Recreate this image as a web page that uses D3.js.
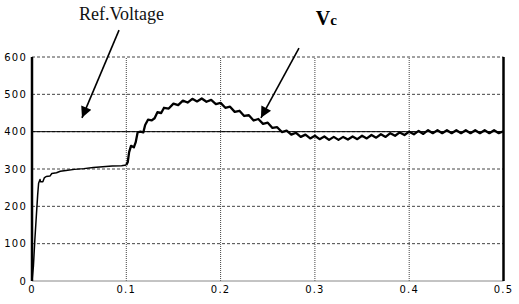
<!DOCTYPE html>
<html>
<head>
<meta charset="utf-8">
<script src="https://cdn.jsdelivr.net/npm/d3@7"></script>
<style>
  html, body { margin: 0; padding: 0; background: #fff; }
  svg { display: block; }
</style>
</head>
<body>
<svg id="chart" width="519" height="304"></svg>
<script>
// ---- data ----
const xTicks = [0, 0.1, 0.2, 0.3, 0.4, 0.5];
const xTickLabels = ["0", "0.1", "0.2", "0.3", "0.4", "0.5"];
const yTicks = [0, 100, 200, 300, 400, 500, 600];
const yTickLabels = ["0", "100", "200", "300", "400", "500", "600"];
const refVoltage = 400;

// time (s)
const time = [
  0, 0.0015, 0.003, 0.0045, 0.006, 0.007, 0.0085, 0.009, 0.0115, 0.013, 0.015, 0.019, 0.021,
  0.026, 0.03, 0.036, 0.045, 0.055, 0.065, 0.075, 0.085, 0.095, 0.1,
  0.1015, 0.103, 0.105, 0.108, 0.11, 0.112, 0.115, 0.118, 0.12, 0.123, 0.127, 0.13, 0.133, 0.137,
  0.140, 0.145, 0.150, 0.155, 0.160, 0.165, 0.170, 0.175, 0.180, 0.185, 0.190, 0.195,
  0.200, 0.205, 0.210, 0.215, 0.220, 0.225, 0.230, 0.235, 0.240, 0.245,
  0.250, 0.255, 0.260, 0.265, 0.270, 0.275, 0.280, 0.285, 0.290, 0.295,
  0.300, 0.305, 0.310, 0.315, 0.320, 0.325, 0.330, 0.335, 0.340, 0.345,
  0.350, 0.355, 0.360, 0.365, 0.370, 0.375, 0.380, 0.385, 0.390, 0.395,
  0.400, 0.405, 0.410, 0.415, 0.420, 0.425, 0.430, 0.435, 0.440, 0.445,
  0.450, 0.455, 0.460, 0.465, 0.470, 0.475, 0.480, 0.485, 0.490, 0.495, 0.500
];
// capacitor voltage Vc (V)
const vc = [
  0, 40, 110, 170, 230, 262, 272, 266, 266, 276, 280, 281, 288,
  290, 294, 296, 299, 301, 304, 306, 308, 309, 311,
  318, 345, 362, 358, 372, 398, 400, 398, 418, 432, 430, 436, 452, 450,
  464, 462, 475, 471, 483, 478, 488, 481, 489, 480, 485, 474,
  477, 464, 467, 453, 456, 442, 444, 430, 434, 421,
  424, 410, 412, 399, 403, 392, 397, 386, 392, 382,
  389, 380, 387, 378, 386, 378, 386, 379, 387, 380,
  389, 382, 391, 384, 393, 386, 396, 389, 398, 391,
  400, 393, 402, 394, 404, 396, 404, 396, 404, 396,
  404, 396, 404, 396, 404, 396, 404, 396, 404, 396, 401
];

// annotations, in data coordinates [t, V]
const annoTexts = [
  { label: "Ref.Voltage", at: [0.0498, 700] }
];
const arrowFrom = [[0.0923, 672], [0.2831, 624]];
const arrowTo   = [[0.0530, 437], [0.2428, 437]];

// ---- drawing ----
const svg = d3.select("#chart");
const x = d3.scaleLinear().domain([0, 0.5]).range([32, 503.5]);
const y = d3.scaleLinear().domain([0, 600]).range([281, 57]);

svg.append("rect").attr("width", 519).attr("height", 304).attr("fill", "#fff");

// horizontal grid
svg.append("g").selectAll("line").data(yTicks.filter(v => v > 0)).join("line")
  .attr("x1", x(0)).attr("x2", x(0.5))
  .attr("y1", d => y(d)).attr("y2", d => y(d))
  .attr("stroke", "#444").attr("stroke-width", 1)
  .attr("stroke-dasharray", "3,2");

// vertical grid
svg.append("g").selectAll("line").data(xTicks.filter(v => v > 0 && v < 0.5)).join("line")
  .attr("x1", d => x(d)).attr("x2", d => x(d))
  .attr("y1", y(0)).attr("y2", y(600))
  .attr("stroke", "#444").attr("stroke-width", 1)
  .attr("stroke-dasharray", "1,1");

// bottom axis line
svg.append("line")
  .attr("x1", x(0)).attr("x2", x(0.5)).attr("y1", y(0)).attr("y2", y(0))
  .attr("stroke", "#888").attr("stroke-width", 1);

// left & right frame
svg.append("line")
  .attr("x1", x(0)).attr("x2", x(0)).attr("y1", y(0)).attr("y2", y(600))
  .attr("stroke", "#000").attr("stroke-width", 2.5);
svg.append("line")
  .attr("x1", x(0.5)).attr("x2", x(0.5)).attr("y1", y(0)).attr("y2", y(600))
  .attr("stroke", "#000").attr("stroke-width", 2.5);

// tick labels
svg.append("g").selectAll("text").data(yTicks).join("text")
  .attr("x", x(0) - 5).attr("y", d => y(d) + 3.5)
  .attr("text-anchor", "end")
  .attr("font-family", "DejaVu Sans, sans-serif").attr("font-size", 10)
  .attr("letter-spacing", 1.2).attr("fill", "#000")
  .text((d, i) => yTickLabels[i]);
svg.append("g").selectAll("text").data(xTicks).join("text")
  .attr("x", d => x(d)).attr("y", 293)
  .attr("text-anchor", "middle")
  .attr("font-family", "DejaVu Sans, sans-serif").attr("font-size", 10)
  .attr("letter-spacing", 1.2).attr("fill", "#000")
  .text((d, i) => xTickLabels[i]);

// reference line
svg.append("line")
  .attr("x1", x(0)).attr("x2", x(0.5))
  .attr("y1", y(refVoltage)).attr("y2", y(refVoltage))
  .attr("stroke", "#000").attr("stroke-width", 1);

// Vc curve (thinner before the step at 0.1 s, thicker rippled part after)
const pts = time.map((t, i) => [t, vc[i]]);
const lineGen = d3.line().x(d => x(d[0])).y(d => y(d[1]));
svg.append("path").datum(pts.filter(d => d[0] <= 0.1))
  .attr("fill", "none").attr("stroke", "#000").attr("stroke-width", 1.5)
  .attr("stroke-linejoin", "round")
  .attr("d", lineGen);
svg.append("path").datum(pts.filter(d => d[0] >= 0.1))
  .attr("fill", "none").attr("stroke", "#000").attr("stroke-width", 2.3)
  .attr("stroke-linejoin", "round")
  .attr("d", lineGen);

// annotation text
annoTexts.forEach(a => {
  svg.append("text")
    .attr("x", x(a.at[0])).attr("y", y(a.at[1]))
    .attr("font-family", "Liberation Serif, Times New Roman, serif")
    .attr("font-size", 18).attr("fill", "#111")
    .text(a.label);
});
const vcText = svg.append("text")
  .attr("x", x(0.301)).attr("y", y(686))
  .attr("font-family", "Liberation Serif, Times New Roman, serif")
  .attr("font-weight", "bold").attr("fill", "#000");
vcText.append("tspan").attr("font-size", 20).text("V");
vcText.append("tspan").attr("font-size", 15).text("c");

// arrows
const defs = svg.append("defs");
defs.append("marker").attr("id", "ah")
  .attr("viewBox", "0 0 10 10").attr("refX", 10).attr("refY", 5)
  .attr("markerUnits", "userSpaceOnUse")
  .attr("markerWidth", 14).attr("markerHeight", 11)
  .attr("orient", "auto")
  .append("path").attr("d", "M0,0 L10,5 L0,10 Z").attr("fill", "#000");
svg.append("g").selectAll("line").data(arrowFrom).join("line")
  .attr("x1", d => x(d[0])).attr("y1", d => y(d[1]))
  .attr("x2", (d, i) => x(arrowTo[i][0])).attr("y2", (d, i) => y(arrowTo[i][1]))
  .attr("stroke", "#000").attr("stroke-width", 1.6)
  .attr("marker-end", "url(#ah)");
</script>
</body>
</html>
